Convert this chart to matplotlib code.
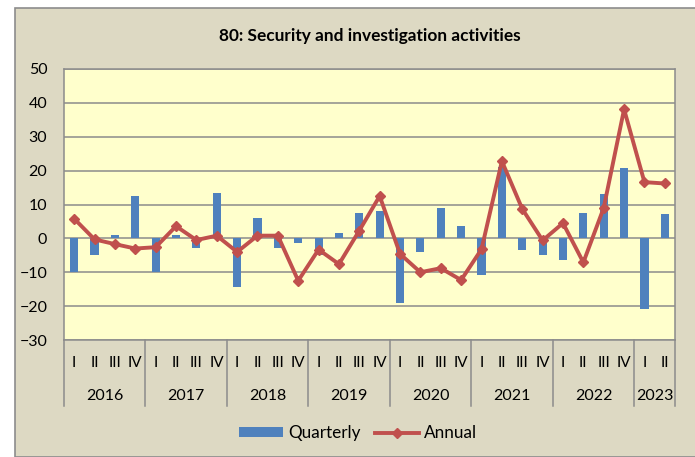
import matplotlib.pyplot as plt
from matplotlib.patches import Rectangle, Patch
from matplotlib.lines import Line2D
import matplotlib.transforms as mtransforms

plt.rcParams['font.family'] = ['Lato', 'DejaVu Sans']

years = ['2016', '2017', '2018', '2019', '2020', '2021', '2022', '2023']
quarters_per_year = [4, 4, 4, 4, 4, 4, 4, 2]
quarter_names = ['I', 'II', 'III', 'IV']

quarterly = [-10.0, -4.8, 1.0, 12.5,
             -10.0, 1.0, -2.8, 13.5,
             -14.3, 6.0, -2.8, -1.4,
             -5.0, 1.5, 7.6, 8.2,
             -19.2, -4.0, 9.0, 3.8,
             -10.9, 21.0, -3.3, -4.8,
             -6.4, 7.6, 13.2, 20.7,
             -20.8, 7.1]
annual = [5.8, -0.3, -1.7, -3.0,
          -2.6, 3.6, -0.5, 0.8,
          -4.0, 0.8, 0.8, -12.5,
          -3.3, -7.6, 2.3, 12.5,
          -4.6, -10.0, -8.8, -12.3,
          -3.2, 22.8, 8.7, -0.6,
          4.5, -7.1, 9.0, 38.1,
          16.6, 16.2]

W, H = 695, 457
fig = plt.figure(figsize=(W / 100, H / 100), dpi=100)
fig.patch.set_facecolor('white')

# beige chart background with border (cropped at right/bottom)
fig.patches.append(Rectangle((15 / W, 0), 1, 1 - 8 / H, transform=fig.transFigure,
                             facecolor='#DDD9C3', edgecolor='#8C8C8C', linewidth=1.2,
                             zorder=-5))

ax = fig.add_axes([64 / W, 1 - 340 / H, (675 - 64) / W, (340 - 69) / H])
ax.set_zorder(2)
ax.set_facecolor('#FFFFCC')

x = list(range(len(quarterly)))
ax.bar(x, quarterly, width=0.4, color='#4F81BD', zorder=2)
ax.plot(x, annual, color='#C0504D', linewidth=2.8, marker='D', markersize=5.5, zorder=3)

ax.set_xlim(-0.5, len(x) - 0.5)
ax.set_ylim(-30, 50)
ax.set_yticks(range(-30, 51, 10))
ax.yaxis.grid(True, color='#8C8C8C', linewidth=1.1)
ax.set_axisbelow(True)
ax.tick_params(axis='y', length=0, labelsize=11.5, pad=12)
ax.set_xticks([])
for s in ax.spines.values():
    s.set_color('#8C8C8C')
    s.set_linewidth(1.1)

ax.set_title('80: Security and investigation activities', fontsize=12.4,
             fontweight='bold', pad=20)

# two-level category axis
trans = mtransforms.blended_transform_factory(ax.transData, fig.transFigure)
y_q = 1 - 363 / H
y_y = 1 - 396 / H
y_top = 1 - 340 / H
y_bot = 1 - 406 / H
pos = 0
bounds = [-0.5]
for yr, n in zip(years, quarters_per_year):
    for k in range(n):
        ax.text(pos + k, y_q, quarter_names[k], transform=trans, ha='center',
                va='center', fontsize=11)
    ax.text(pos + (n - 1) / 2, y_y, yr, transform=trans, ha='center',
            va='center', fontsize=11.5)
    pos += n
    bounds.append(pos - 0.5)
for b in bounds:
    ax.add_line(Line2D([b, b], [y_top, y_bot], transform=trans, color='#8C8C8C',
                       linewidth=1.1, clip_on=False))

handles = [Patch(facecolor='#4F81BD'),
           Line2D([], [], color='#C0504D', linewidth=2.8, marker='D', markersize=5.5)]
fig.legend(handles, ['Quarterly', 'Annual'], loc='center', bbox_to_anchor=(358 / W, 1 - 433 / H),
           ncol=2, frameon=False, fontsize=12.3, handlelength=2.6, handleheight=0.5,
           columnspacing=0.8, handletextpad=0.3)

fig.savefig('out.png', dpi=100)
